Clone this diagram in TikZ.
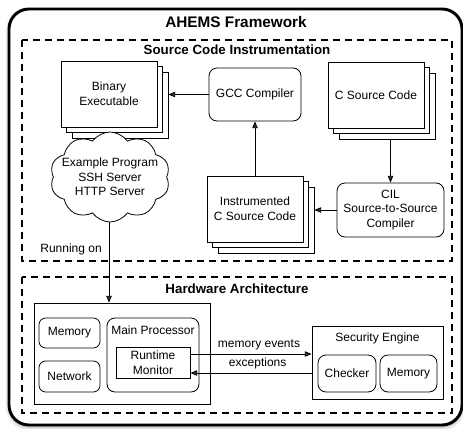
\documentclass[tikz,border=0pt]{standalone}
\usepackage{fontspec}
\setmainfont{Liberation Sans}
\usetikzlibrary{calc}
\usetikzlibrary{arrows.meta}
\usetikzlibrary{shadows.blur}
\usetikzlibrary{shapes.symbols}

\begin{document}
\begin{tikzpicture}[x=0.75pt,y=0.75pt,yscale=-1,xscale=1,
	every node/.style={font=\fontsize{9}{11}\selectfont, align=center, inner sep=0.75pt},
	doc/.style={draw, fill=white, line width=0.6pt, minimum width=72pt, minimum height=49.5pt},
	tool/.style={draw, fill=white, rounded corners=6pt, line width=0.6pt},
	unit/.style={draw, fill=white, line width=0.6pt},
	section/.style={draw, line width=1.4pt, dash pattern={on 5.5pt off 3.5pt}},
	heading/.style={font=\fontsize{10}{12}\bfseries\selectfont},
	flow/.style={line width=0.6pt, -{Triangle[length=5pt,width=4pt]}}
	]
	\useasboundingbox (0,0) rectangle (463,428);

	%Framework border
	\draw [line width=2.2pt, rounded corners=15pt, fill=white, blur shadow={shadow xshift=0pt, shadow yshift=-1.5pt, shadow blur radius=3pt}] (9,9) rectangle (462,425) ;
	% Text Node
	\node [font=\fontsize{11.5}{13}\bfseries\selectfont] (ahems) at (236,22) {AHEMS Framework};

	%Dashed sections
	\draw [section] (22,40) rectangle (452,261) ;
	\node [heading] (sci) at (237,50) {Source Code Instrumentation};
	\draw [section] (22,277) rectangle (452,413) ;
	\node [heading] (hwa) at (237,289) {Hardware Architecture};

	%Source code part (stacked pages)
	\node [doc] (binary3) at (120,105) {};
	\node [doc] (binary2) at (114.5,99.5) {};
	\node [doc] (binary) at (109,94) {Binary\\Executable};
	\node [tool, minimum width=69pt, minimum height=39.75pt] (gcc) at (255,94.5) {GCC Compiler};
	\node [doc] (csrc3) at (387,106) {};
	\node [doc] (csrc2) at (381.5,100.5) {};
	\node [doc] (csrc) at (376,95) {C Source Code};
	\node [doc] (instr3) at (266,220) {};
	\node [doc] (instr2) at (260.5,214.5) {};
	\node [doc] (instr) at (255,209) {Instrumented\\C Source Code};
	\node [tool, minimum width=80.25pt, minimum height=40.5pt] (cil) at (390.5,210) {CIL\\Source-to-Source\\Compiler};

	%Hardware part
	\node [unit, minimum width=132pt, minimum height=75.75pt] (hw) at (122,353.5) {};
	\node [tool, rounded corners=5pt, minimum width=45.75pt, minimum height=22.5pt] (mem) at (69.5,333) {Memory};
	\node [tool, rounded corners=5pt, minimum width=45.75pt, minimum height=23.25pt] (net) at (69.5,376.5) {Network};
	\node [tool, minimum width=69pt, minimum height=55.5pt] (proc) at (153,355) {};
	\node (proclbl) at (153,330) {Main Processor};
	\node [unit, minimum width=55.5pt, minimum height=23.25pt] (rtm) at (153,362.5) {Runtime\\Monitor};
	\node [unit, minimum width=98.25pt, minimum height=54.75pt] (sec) at (377.5,362.5) {};
	\node (seclbl) at (377.5,338) {Security Engine};
	\node [tool, minimum width=43.5pt, minimum height=27.75pt] (chk) at (347,373.5) {Checker};
	\node [tool, minimum width=42.75pt, minimum height=27.75pt] (mem2) at (408.5,373.5) {Memory};

	%Straight Lines
	\draw [flow] (gcc.west) -- (gcc.west -| binary3.east) ;
	\draw [flow] (instr.north) -- (gcc.south) ;
	\draw [flow] (cil.north |- csrc3.south) -- (cil.north) ;
	\draw [flow] (cil.west) -- (cil.west -| instr3.east) ;
	\draw [flow] (binary.south |- binary3.south) -- (binary.south |- hw.north) ;
	\node [anchor=east] (runon) at (103,249) {Running on};

	%Cloud
	\node [cloud, draw, fill=white, line width=0.6pt, cloud puffs=10, cloud puff arc=110, aspect=1.5, inner sep=-6pt] (prog) at (110,177) {Example Program\\SSH Server\\HTTP Server};

	%Events
	\coordinate (evout) at ($(rtm.east)+(0,-8.5)$);
	\coordinate (exin) at ($(rtm.east)+(0,10.5)$);
	\draw [flow] (evout) -- (evout -| sec.west) node [midway, above=2pt, xshift=6pt] (memev) {memory events};
	\draw [flow] (exin -| sec.west) -- (exin) node [midway, above=2pt, xshift=5pt] (excp) {exceptions};

\end{tikzpicture}
\end{document}
